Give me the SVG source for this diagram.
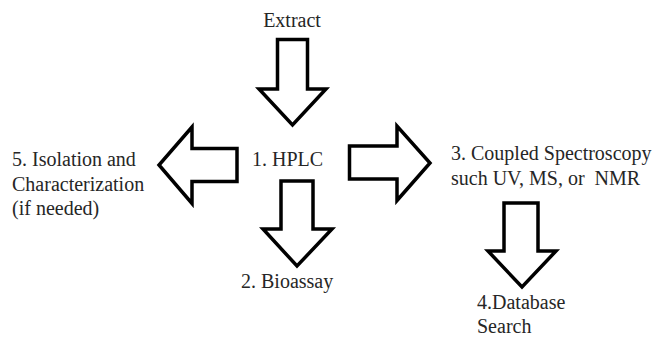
<svg xmlns="http://www.w3.org/2000/svg" width="652" height="337" viewBox="0 0 652 337">
<style>
text{font-family:'Liberation Serif','Times New Roman',serif;font-size:20px;fill:#262626}
.a{fill:#fff;stroke:#000;stroke-width:3.5;stroke-linejoin:miter}
</style>
<rect width="652" height="337" fill="#fff"/>
<g id="connectors">
<polygon class="a" points="277.5,39.5 307.5,39.5 307.5,89 326,89 292.5,125 259,89 277.5,89"/>
<polygon class="a" points="237,148.5 192,148.5 192,127 159,165 192,203.5 192,181.5 237,181.5"/>
<polygon class="a" points="349.5,146 397,146 397,126 430,163 397,200.5 397,179 349.5,179"/>
<polygon class="a" points="281,181 313,181 313,229 332,229 297,266 263,229 281,229"/>
<polygon class="a" points="504,203 538,203 538,251 556,251 522,287 488,251 504,251"/>
</g>
<g id="extract"><text x="292" y="27" text-anchor="middle">Extract</text></g>
<g id="hplc"><text x="252" y="166">1. HPLC</text></g>
<g id="bioassay"><text x="241" y="288">2. Bioassay</text></g>
<g id="isolation"><text x="12" y="166">5. Isolation and</text><text x="12" y="191">Characterization</text><text x="12" y="215">(if needed)</text></g>
<g id="spectroscopy"><text x="451" y="160">3. Coupled Spectroscopy</text><text x="451" y="185" xml:space="preserve">such UV, MS, or  NMR</text></g>
<g id="database"><text x="477" y="309">4.Database</text><text x="477" y="333">Search</text></g>
</svg>
